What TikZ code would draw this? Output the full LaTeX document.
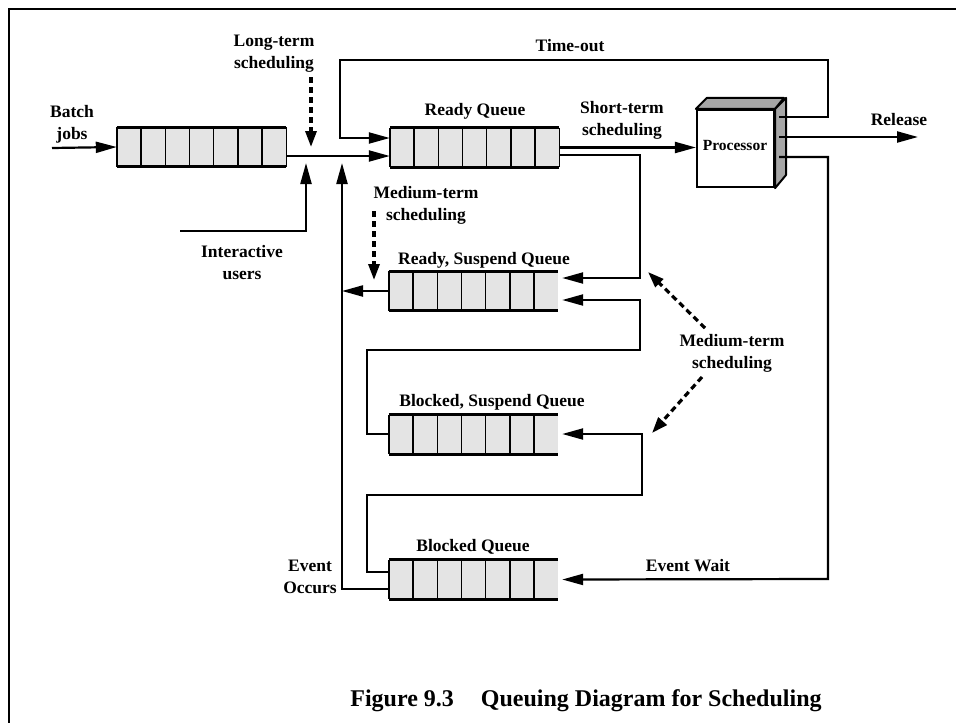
\documentclass[tikz,border=0pt]{standalone}
\usepackage{fontspec}
\setmainfont{Liberation Serif}
\usetikzlibrary{arrows.meta,calc}
\definecolor{qgray}{HTML}{E4E4E4}
\definecolor{pgray}{HTML}{A6A6A6}
\tikzset{
  conn/.style={line width=2.2pt},
  arr/.style={conn,-{Triangle[length=21pt,width=11pt]}},
  dasharr/.style={line width=3.2pt,dash pattern=on 6pt off 4pt,-{Triangle[length=16pt,width=11pt]}},
  lbl/.style={font=\fontsize{17.5}{22}\selectfont\bfseries,inner sep=0pt,align=center},
  qbox/.style={minimum width=169pt,minimum height=39pt,inner sep=0pt,fill=qgray,draw=none},
  qdiv/.style={line width=1.4pt},
  qedge/.style={line width=3pt},
}
\newcommand\drawqueue[1]{%
  \foreach \i in {1,...,6}
    \draw[qdiv] ($(#1.north west)!\i/7!(#1.north east)$) -- ($(#1.south west)!\i/7!(#1.south east)$);
  \draw[qdiv] (#1.north west) -- (#1.south west);
  \draw[qedge] (#1.north west) -- (#1.north east) (#1.south west) -- (#1.south east);
}
\newcommand\closequeue[1]{\draw[qdiv] (#1.north east) -- (#1.south east);}
\begin{document}
\begin{tikzpicture}[x=1pt,y=-1pt]
\useasboundingbox (0,0) rectangle (956,723);
% frame
\draw[line width=2.4pt] (9,723) -- (9,9) -- (956,9);

% queues
\node[qbox] (batch)   at (201.5,147) {};
\node[qbox] (ready)   at (474.5,147.5) {};
\node[qbox] (rsusp)   at (473.5,291) {};
\node[qbox] (bsusp)   at (473.5,434.5) {};
\node[qbox] (blocked) at (473.5,579.5) {};
\drawqueue{batch}\closequeue{batch}
\drawqueue{ready}\closequeue{ready}
\drawqueue{rsusp}
\drawqueue{bsusp}
\drawqueue{blocked}

% processor
\node[draw,line width=2.2pt,fill=white,minimum width=77pt,minimum height=77pt,inner sep=0pt] (proc) at (735.5,148.5) {};
\filldraw[fill=pgray,line width=2pt,line join=round] (proc.north west) -- ++(11,-11) -- ++(77,0) -- (proc.north east) -- cycle;
\filldraw[fill=pgray,line width=2pt,line join=round] (proc.north east) -- ++(11,-11) -- ++(0,77) -- (proc.south east) -- cycle;
\node[font=\fontsize{15.5}{18}\selectfont\bfseries,inner sep=0pt] (proclbl) at (735,145) {Processor};

% free ends
\coordinate (batchin) at (52,148);
\coordinate (inter) at (180,231);
\coordinate (rel) at (918,137);
\coordinate (lts) at (311,77);
\coordinate (mts) at (374,211);
\coordinate (mtsa) at (705,328);
\coordinate (mtsb) at (702,377);

% connectors
\draw[arr] (batchin) -- (batch.west);
\draw[arr] ($(batch.east)+(0,9)$) -- ($(ready.west)+(0,8.5)$);
\draw[arr] (inter) -- (306,231) -- (306,163);
\draw[arr] ($(proc.east)+(4,-31.5)$) -- (828,117) -- (828,60) -- (340,60) -- (340,138) -- ($(ready.west)+(0,-9.5)$);
\draw[arr] (ready.east) -- (ready.east -| proc.west);
\draw[arr] ($(proc.east)+(4,-11.5)$) -- (rel);
\draw[arr] ($(proc.east)+(4,8.5)$) -- (828,157) -- (828,579) -- ($(blocked.east)+(4,0)$);
\draw[arr] ($(ready.east)+(0,7.5)$) -- (640,155) -- (640,278) -- ($(rsusp.east)+(4,-13)$);
\draw[arr] ($(bsusp.west)+(0,-0.5)$) -- (367,434) -- (367,350) -- (640,350) -- (640,300) -- ($(rsusp.east)+(4,9)$);
\draw[arr] ($(blocked.west)+(0,-7.5)$) -- (367,572) -- (367,495) -- (642,495) -- (642,434) -- ($(bsusp.east)+(4,-0.5)$);
\draw[arr] ($(blocked.west)+(0,9.5)$) -- (342,589) -- (342,163);
\draw[arr] (rsusp.west) -- (342,291);

% dashed scheduling arrows
\draw[dasharr] (lts) -- (311,147);
\draw[dasharr] (mts) -- (374,280);
\draw[dasharr] (mtsa) -- (648,272);
\draw[dasharr] (mtsb) -- (652,433);

% labels
\node[lbl] (lbatch) at (72,124) {Batch\\jobs};
\node[lbl] (llong) at (274,54) {Long-term\\scheduling};
\node[lbl] (linter) at (242,263) {Interactive\\users};
\node[lbl] (lready) at (475,111) {Ready Queue};
\node[lbl] (ltime) at (570,46) {Time-out};
\node[lbl] (lshort) at (622,120) {Short-term\\scheduling};
\node[lbl] (lrel) at (899,120) {Release};
\node[lbl] (lmed1) at (426,205) {Medium-term\\scheduling};
\node[lbl] (lrsusp) at (484,260) {Ready, Suspend Queue};
\node[lbl] (lmed2) at (732,353) {Medium-term\\scheduling};
\node[lbl] (lbsusp) at (492,402) {Blocked, Suspend Queue};
\node[lbl] (lblocked) at (473,547) {Blocked Queue};
\node[lbl] (locc) at (310,577) {Event\\Occurs};
\node[lbl] (lwait) at (688,566) {Event Wait};
\node[font=\fontsize{24}{28}\selectfont\bfseries,inner sep=0pt,anchor=base] (cap) at (586,706) {Figure 9.3\hspace{27pt}Queuing Diagram for Scheduling};
\end{tikzpicture}
\end{document}
